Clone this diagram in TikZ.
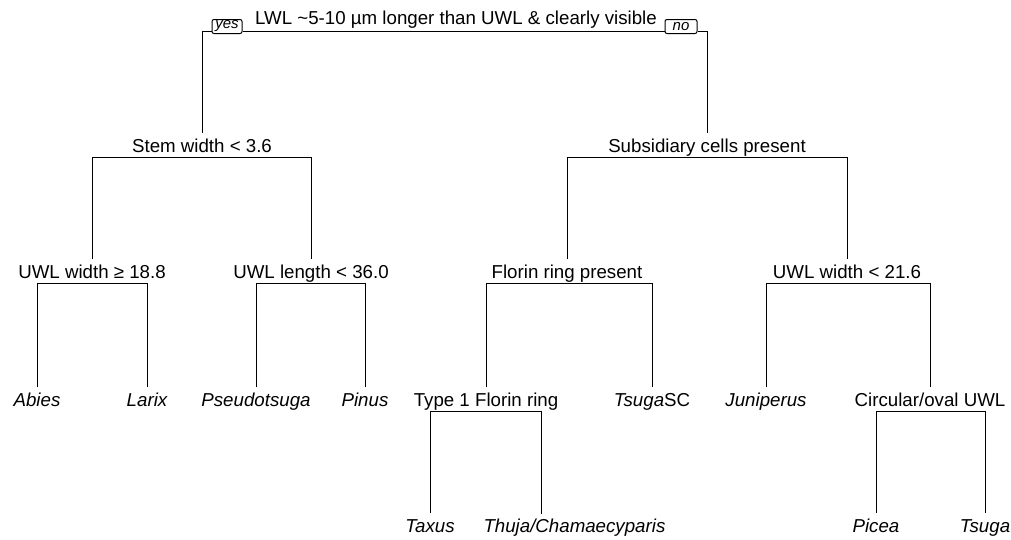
\documentclass[tikz,border=0pt]{standalone}
\usepackage{fontspec}
\setmainfont{Liberation Sans}

\begin{document}
\begin{tikzpicture}[x=1pt,y=-1pt,line width=1pt,
  split/.style={anchor=base,inner sep=0pt,text height=18.5pt,text depth=5pt,font=\fontsize{18.7}{22}\selectfont},
  leaf/.style={split,font=\fontsize{18.7}{22}\selectfont\itshape},
  answer/.style={draw,rounded corners=2pt,inner sep=0pt,minimum height=14pt,font=\fontsize{15}{16}\selectfont\itshape}]
\useasboundingbox (0,0) rectangle (1011,539);

% root
\node[split] (root) at (456,24) {LWL \textasciitilde5-10 µm longer than UWL \& clearly visible};
\node[answer,minimum width=30pt] (yes) at (227,26.5) {yes};
\node[answer,minimum width=32pt] (no) at (681,26.5) {no};

% second level
\node[split] (stem) at (202,152) {Stem width < 3.6};
\node[split] (subs) at (707,152) {Subsidiary cells present};

% third level
\node[split] (uwlw) at (92,278) {UWL width ≥ 18.8};
\node[split] (uwll) at (311,278) {UWL length < 36.0};
\node[split] (florin) at (567,278) {Florin ring present};
\node[split] (uwlw2) at (847,278) {UWL width < 21.6};

% fourth level
\node[leaf] (abies) at (37,406) {Abies};
\node[leaf] (larix) at (147,406) {Larix};
\node[leaf] (pseudo) at (256,406) {Pseudotsuga};
\node[leaf] (pinus) at (365,406) {Pinus};
\node[split] (type1) at (486,406) {Type 1 Florin ring};
\node[leaf] (tsugasc) at (652,406) {Tsuga\textup{SC}};
\node[leaf] (junip) at (766,406) {Juniperus};
\node[split] (circ) at (930,406) {Circular/oval UWL};

% fifth level
\node[leaf] (taxus) at (430,532) {Taxus};
\node[leaf,anchor=base west] (thuja) at (483,532) {Thuja/Chamaecyparis};
\coordinate (thujatop) at (541,513.5);
\node[leaf] (picea) at (876,532) {Picea};
\node[leaf] (tsuga) at (985,532) {Tsuga};

% branches
\draw (stem.north) |- ([yshift=-4.5pt]yes.west);
\draw ([yshift=-4.5pt]yes.east) -- ([yshift=-4.5pt]no.west);
\draw ([yshift=-4.5pt]no.east) -| (subs.north);
\draw (uwlw.north) |- (stem.south) -| (uwll.north);
\draw (florin.north) |- (subs.south) -| (uwlw2.north);
\draw (abies.north) |- (uwlw.south) -| (larix.north);
\draw (pseudo.north) |- (uwll.south) -| (pinus.north);
\draw (type1.north) |- (florin.south) -| (tsugasc.north);
\draw (junip.north) |- (uwlw2.south) -| (circ.north);
\draw (taxus.north) |- (type1.south) -| (thujatop);
\draw (picea.north) |- (circ.south) -| (tsuga.north);
\end{tikzpicture}
\end{document}
